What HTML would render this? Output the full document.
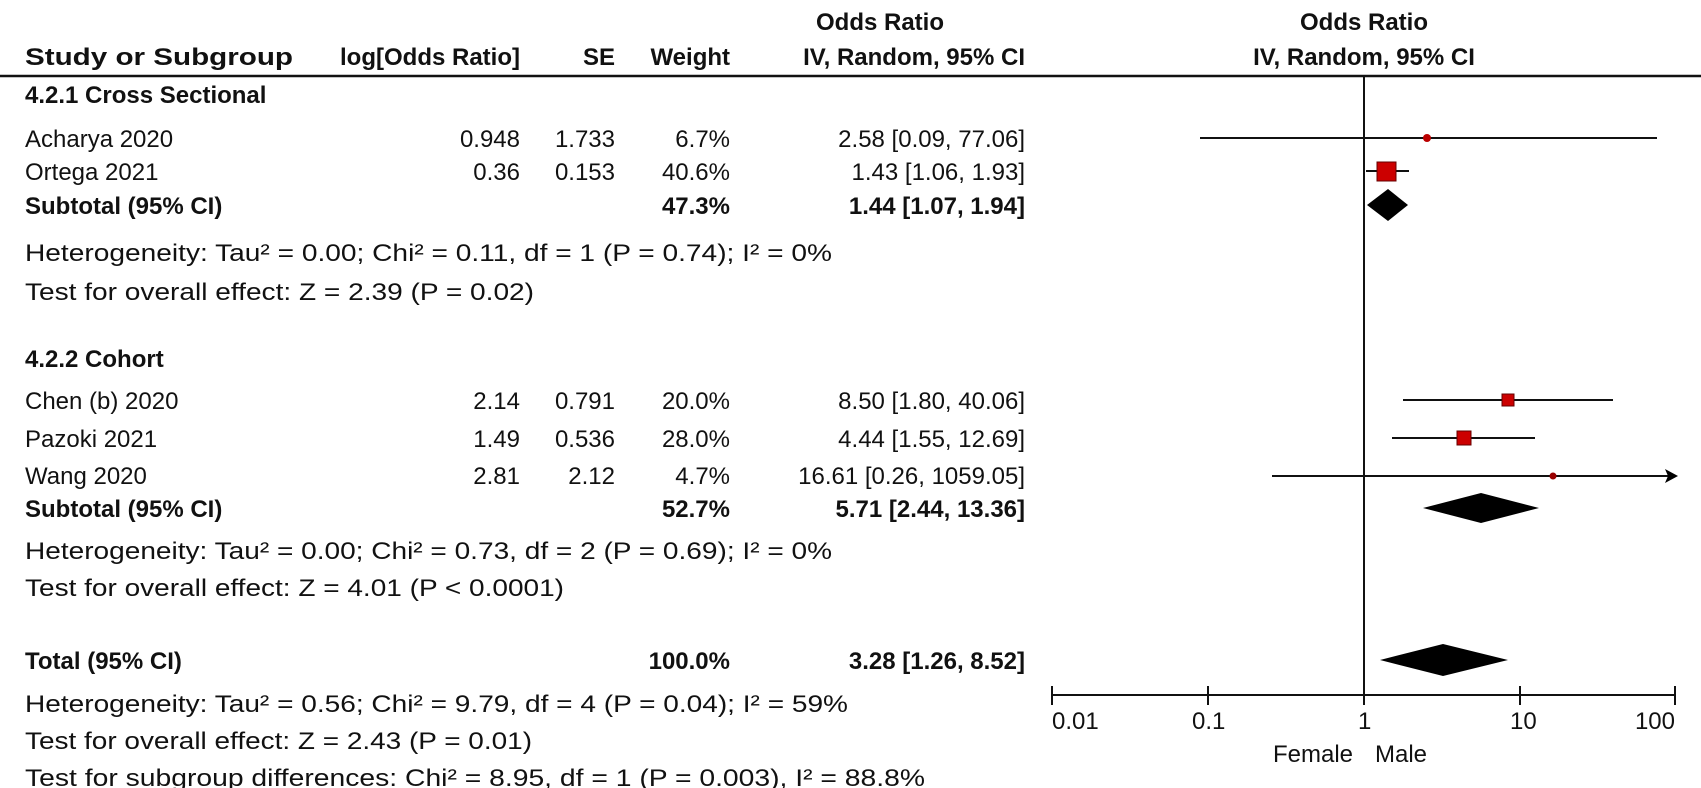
<!DOCTYPE html>
<html><head><meta charset="utf-8"><style>
html,body{margin:0;padding:0;background:#fff;}
svg{display:block;}
text{font-family:"Liberation Sans",Arial,sans-serif;font-size:24px;fill:#111;}
.b{font-weight:bold;}
.e{text-anchor:end;}
.m{text-anchor:middle;}
</style></head><body>
<svg width="1701" height="788" viewBox="0 0 1701 788" xmlns="http://www.w3.org/2000/svg">
<!-- headers -->
<text class="b m" x="880" y="30">Odds Ratio</text>
<text class="b m" x="1364" y="30">Odds Ratio</text>
<text class="b" x="25" y="65" textLength="268" lengthAdjust="spacingAndGlyphs">Study or Subgroup</text>
<text class="b e" x="520" y="65">log[Odds Ratio]</text>
<text class="b e" x="615" y="65">SE</text>
<text class="b e" x="730" y="65">Weight</text>
<text class="b e" x="1025" y="65">IV, Random, 95% CI</text>
<text class="b m" x="1364" y="65">IV, Random, 95% CI</text>
<line x1="0" y1="76" x2="1701" y2="76" stroke="#111" stroke-width="2.5"/>

<text class="b" x="25" y="103">4.2.1 Cross Sectional</text>
<text x="25" y="147">Acharya 2020</text>
<text class="e" x="520" y="147">0.948</text><text class="e" x="615" y="147">1.733</text><text class="e" x="730" y="147">6.7%</text><text class="e" x="1025" y="147">2.58 [0.09, 77.06]</text>
<text x="25" y="180">Ortega 2021</text>
<text class="e" x="520" y="180">0.36</text><text class="e" x="615" y="180">0.153</text><text class="e" x="730" y="180">40.6%</text><text class="e" x="1025" y="180">1.43 [1.06, 1.93]</text>
<text class="b" x="25" y="214">Subtotal (95% CI)</text>
<text class="b e" x="730" y="214">47.3%</text><text class="b e" x="1025" y="214">1.44 [1.07, 1.94]</text>
<text x="25" y="261" textLength="807" lengthAdjust="spacingAndGlyphs">Heterogeneity: Tau² = 0.00; Chi² = 0.11, df = 1 (P = 0.74); I² = 0%</text>
<text x="25" y="300" textLength="509" lengthAdjust="spacingAndGlyphs">Test for overall effect: Z = 2.39 (P = 0.02)</text>

<text class="b" x="25" y="367">4.2.2 Cohort</text>
<text x="25" y="409">Chen (b) 2020</text>
<text class="e" x="520" y="409">2.14</text><text class="e" x="615" y="409">0.791</text><text class="e" x="730" y="409">20.0%</text><text class="e" x="1025" y="409">8.50 [1.80, 40.06]</text>
<text x="25" y="447">Pazoki 2021</text>
<text class="e" x="520" y="447">1.49</text><text class="e" x="615" y="447">0.536</text><text class="e" x="730" y="447">28.0%</text><text class="e" x="1025" y="447">4.44 [1.55, 12.69]</text>
<text x="25" y="484">Wang 2020</text>
<text class="e" x="520" y="484">2.81</text><text class="e" x="615" y="484">2.12</text><text class="e" x="730" y="484">4.7%</text><text class="e" x="1025" y="484">16.61 [0.26, 1059.05]</text>
<text class="b" x="25" y="517">Subtotal (95% CI)</text>
<text class="b e" x="730" y="517">52.7%</text><text class="b e" x="1025" y="517">5.71 [2.44, 13.36]</text>
<text x="25" y="559" textLength="807" lengthAdjust="spacingAndGlyphs">Heterogeneity: Tau² = 0.00; Chi² = 0.73, df = 2 (P = 0.69); I² = 0%</text>
<text x="25" y="596" textLength="539" lengthAdjust="spacingAndGlyphs">Test for overall effect: Z = 4.01 (P &lt; 0.0001)</text>

<text class="b" x="25" y="669">Total (95% CI)</text>
<text class="b e" x="730" y="669">100.0%</text><text class="b e" x="1025" y="669">3.28 [1.26, 8.52]</text>
<text x="25" y="712" textLength="823" lengthAdjust="spacingAndGlyphs">Heterogeneity: Tau² = 0.56; Chi² = 9.79, df = 4 (P = 0.04); I² = 59%</text>
<text x="25" y="749" textLength="507" lengthAdjust="spacingAndGlyphs">Test for overall effect: Z = 2.43 (P = 0.01)</text>
<text x="25" y="786" textLength="900" lengthAdjust="spacingAndGlyphs">Test for subgroup differences: Chi² = 8.95, df = 1 (P = 0.003), I² = 88.8%</text>

<!-- plot -->
<line x1="1364" y1="76" x2="1364" y2="695" stroke="#111" stroke-width="2"/>
<!-- Acharya -->
<line x1="1200" y1="138" x2="1657" y2="138" stroke="#111" stroke-width="2"/>
<circle cx="1427" cy="138" r="4" fill="#b00"/>
<!-- Ortega -->
<line x1="1366" y1="171" x2="1409" y2="171" stroke="#111" stroke-width="2"/>
<rect x="1377" y="162" width="19" height="19" fill="#cc0000" stroke="#600" stroke-width="1"/>
<!-- Subtotal 1 -->
<polygon points="1367,205 1388,189 1408,205 1388,221" fill="#000"/>
<!-- Chen -->
<line x1="1403" y1="400" x2="1613" y2="400" stroke="#111" stroke-width="2"/>
<rect x="1502" y="394" width="12" height="12" fill="#cc0000" stroke="#600" stroke-width="1"/>
<!-- Pazoki -->
<line x1="1392" y1="438" x2="1535" y2="438" stroke="#111" stroke-width="2"/>
<rect x="1457" y="431" width="14" height="14" fill="#cc0000" stroke="#600" stroke-width="1"/>
<!-- Wang -->
<line x1="1272" y1="476" x2="1670" y2="476" stroke="#111" stroke-width="2"/>
<polygon points="1678,476 1665,469 1668,476 1665,483" fill="#000"/>
<circle cx="1553" cy="476" r="3.5" fill="#900"/>
<!-- Subtotal 2 -->
<polygon points="1423,508 1481,493 1539,508 1481,523" fill="#000"/>
<!-- Total -->
<polygon points="1380,660 1443,644 1508,660 1443,676" fill="#000"/>
<!-- axis -->
<line x1="1052" y1="695" x2="1676" y2="695" stroke="#111" stroke-width="2"/>
<g stroke="#111" stroke-width="2">
<line x1="1052" y1="686" x2="1052" y2="705"/>
<line x1="1208" y1="686" x2="1208" y2="705"/>
<line x1="1364" y1="686" x2="1364" y2="705"/>
<line x1="1520" y1="686" x2="1520" y2="705"/>
<line x1="1675" y1="686" x2="1675" y2="705"/>
</g>
<text x="1052" y="729">0.01</text>
<text x="1192" y="729">0.1</text>
<text x="1358" y="729">1</text>
<text x="1510" y="729">10</text>
<text class="e" x="1675" y="729">100</text>
<text class="e" x="1353" y="762">Female</text>
<text x="1375" y="762">Male</text>
</svg>
</body></html>
